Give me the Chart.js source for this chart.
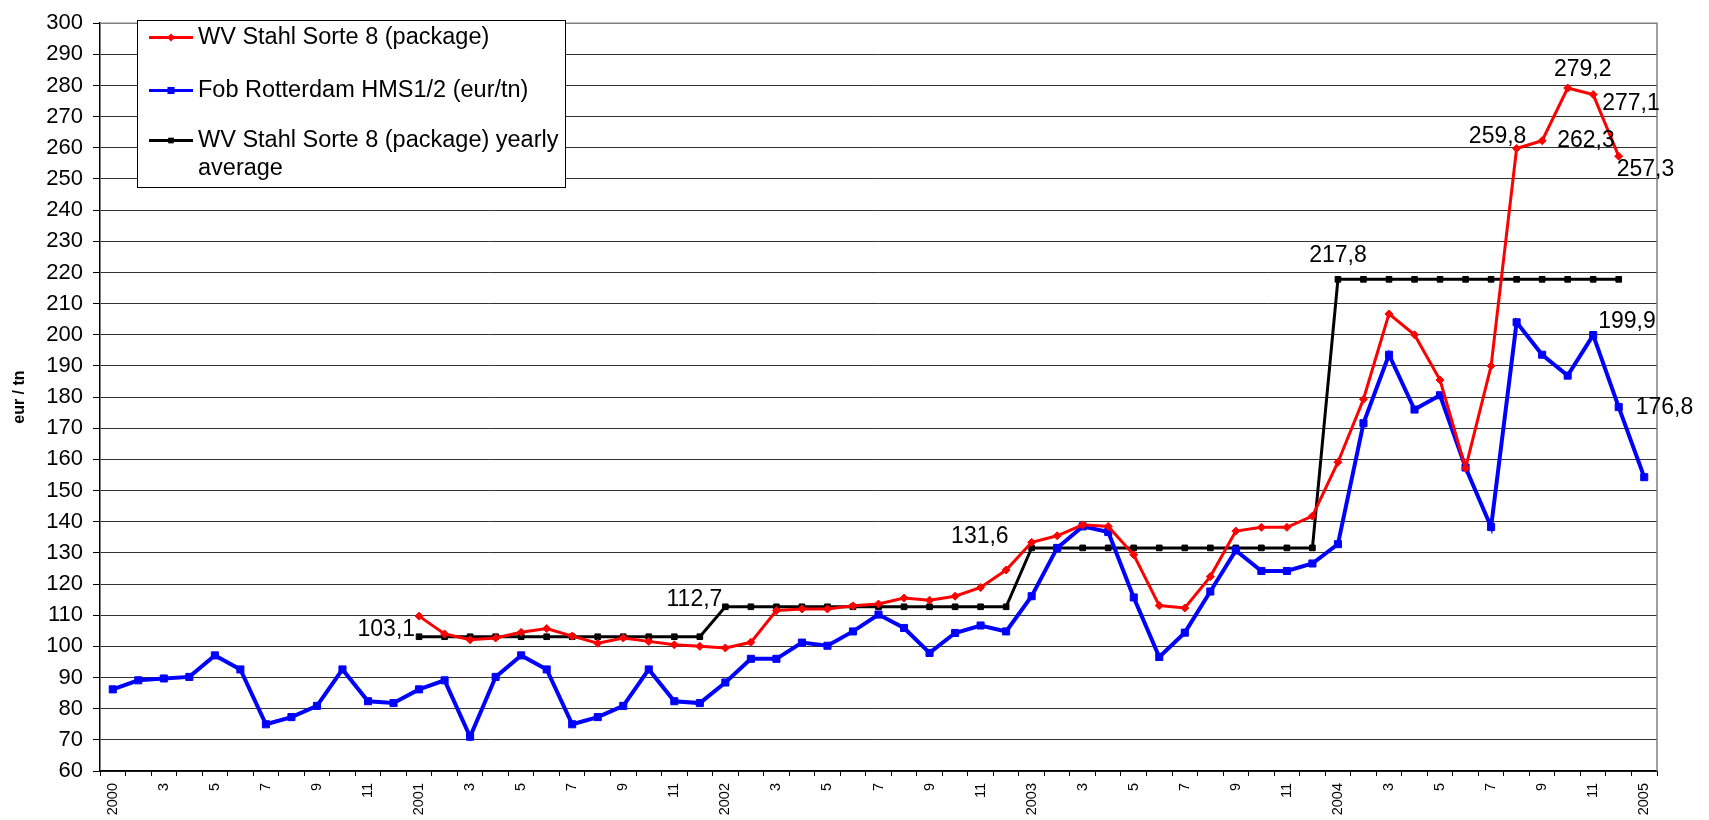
<!DOCTYPE html>
<html>
<head>
<meta charset="utf-8">
<script src="https://cdn.jsdelivr.net/npm/chart.js@4/dist/chart.umd.min.js"></script>
<style>
  html, body { margin: 0; padding: 0; background: #fff; }
  #wrap { width: 1709px; height: 820px; }
</style>
</head>
<body>
<div id="wrap"><canvas id="myChart" width="1709" height="820"></canvas></div>
<script>
// monthly categories, Jan 2000 .. Jan 2005
const months = [
  '2000', '2', '3', '4', '5', '6', '7', '8', '9', '10', '11', '12',
  '2001', '2', '3', '4', '5', '6', '7', '8', '9', '10', '11', '12',
  '2002', '2', '3', '4', '5', '6', '7', '8', '9', '10', '11', '12',
  '2003', '2', '3', '4', '5', '6', '7', '8', '9', '10', '11', '12',
  '2004', '2', '3', '4', '5', '6', '7', '8', '9', '10', '11', '12',
  '2005'
];

const stahl = [
  null, null, null, null, null, null, null, null, null, null, null, null,
  109.7, 104.0, 102.1, 102.7, 104.5, 105.7, 103.3, 101.0, 102.7, 101.6, 100.5, 100.0,
  99.5, 101.3, 111.5, 112.0, 112.0, 113.0, 113.6, 115.5, 114.8, 116.1, 118.9, 124.5,
  133.4, 135.5, 139.0, 138.5, 129.4, 113.1, 112.3, 122.4, 137.0, 138.2, 138.2, 141.8,
  159.1, 179.3, 206.7, 200.0, 185.5, 157.2, 190.0, 259.8, 262.3, 279.2, 277.1, 257.3,
  null
];

const rotterdam = [
  86.2, 89.1, 89.7, 90.2, 97.1, 92.6, 75.0, 77.3, 80.9, 92.6, 82.4, 81.8,
  86.2, 89.1, 71.0, 90.2, 97.1, 92.6, 75.0, 77.3, 80.9, 92.6, 82.4, 81.8,
  88.4, 96.0, 96.0, 101.2, 100.2, 104.8, 110.2, 105.9, 97.9, 104.3, 106.7, 104.8,
  116.1, 131.6, 138.5, 136.7, 115.7, 96.6, 104.4, 117.6, 130.8, 124.2, 124.2, 126.6,
  132.8, 171.6, 193.6, 176.0, 180.6, 157.4, 138.3, 204.0, 193.6, 186.9, 199.9, 176.8,
  154.3
];

const yearlyAvg = [
  null, null, null, null, null, null, null, null, null, null, null, null,
  103.1, 103.1, 103.1, 103.1, 103.1, 103.1, 103.1, 103.1, 103.1, 103.1, 103.1, 103.1,
  112.7, 112.7, 112.7, 112.7, 112.7, 112.7, 112.7, 112.7, 112.7, 112.7, 112.7, 112.7,
  131.6, 131.6, 131.6, 131.6, 131.6, 131.6, 131.6, 131.6, 131.6, 131.6, 131.6, 131.6,
  217.8, 217.8, 217.8, 217.8, 217.8, 217.8, 217.8, 217.8, 217.8, 217.8, 217.8, 217.8,
  null
];

const legendLines = [
  ['WV Stahl Sorte 8 (package)'],
  ['Fob Rotterdam HMS1/2 (eur/tn)'],
  ['WV Stahl Sorte 8 (package) yearly', 'average']
];

// which points get a value label: dataset, index, align, dx, dy (to baseline)
const pointLabels = [
  [2, 12, 'right', -4, -1],
  [2, 24, 'right', -3, -1],
  [2, 36, 'right', -23, -5],
  [2, 48, 'center', 0, -17],
  [0, 55, 'center', -19, -5],
  [0, 56, 'left', 15, 6],
  [0, 57, 'center', 15, -12],
  [0, 58, 'left', 9, 15],
  [0, 59, 'left', -2, 20],
  [1, 58, 'left', 5, -7],
  [1, 59, 'left', 17, 7]
];

const FONT = '"Liberation Sans", Arial, sans-serif';

const plotFrame = {
  id: 'plotFrame',
  beforeDatasetsDraw(chart) {
    const a = chart.chartArea, ctx = chart.ctx;
    ctx.save();
    ctx.strokeStyle = '#808080';
    ctx.lineWidth = 1.5;
    ctx.beginPath();
    ctx.moveTo(a.left, a.top);
    ctx.lineTo(a.right, a.top);
    ctx.lineTo(a.right, a.bottom);
    ctx.stroke();
    ctx.restore();
  }
};

const valueLabels = {
  id: 'valueLabels',
  afterDatasetsDraw(chart) {
    const ctx = chart.ctx;
    ctx.save();
    ctx.font = '23px ' + FONT;
    ctx.fillStyle = '#000';
    ctx.textBaseline = 'alphabetic';
    pointLabels.forEach(([ds, i, align, dx, dy]) => {
      const pt = chart.getDatasetMeta(ds).data[i];
      const v = chart.data.datasets[ds].data[i];
      ctx.textAlign = align;
      ctx.fillText(v.toFixed(1).replace('.', ','), pt.x + dx, pt.y + dy);
    });
    ctx.restore();
  }
};

const boxLegend = {
  id: 'boxLegend',
  afterDraw(chart) {
    const ctx = chart.ctx;
    const box = { x: 137, y: 20, w: 428, h: 167 };
    const baselines = [43.5, 96.5, 146.5];
    ctx.save();
    ctx.fillStyle = '#fff';
    ctx.fillRect(box.x, box.y, box.w, box.h);
    ctx.strokeStyle = '#000';
    ctx.lineWidth = 1;
    ctx.strokeRect(box.x + 0.5, box.y + 0.5, box.w, box.h);
    ctx.font = '23.5px ' + FONT;
    ctx.textAlign = 'left';
    ctx.textBaseline = 'alphabetic';
    chart.data.datasets.forEach((ds, k) => {
      const ly = baselines[k] - 6;
      ctx.strokeStyle = ds.borderColor;
      ctx.lineWidth = 3;
      ctx.beginPath();
      ctx.moveTo(149, ly);
      ctx.lineTo(193, ly);
      ctx.stroke();
      ctx.fillStyle = ds.borderColor;
      const s = ds.pointRadius * Math.SQRT1_2;
      ctx.save();
      ctx.translate(171, ly);
      if (ds.pointStyle === 'rectRot') ctx.rotate(Math.PI / 4);
      ctx.fillRect(-s, -s, 2 * s, 2 * s);
      ctx.restore();
      ctx.fillStyle = '#000';
      legendLines[k].forEach((t, j) => {
        ctx.fillText(t, 198, baselines[k] + j * 28);
      });
    });
    ctx.restore();
  }
};

const data = {
  labels: months,
  datasets: [{
    label: legendLines[0].join(' '),
    data: stahl,
    borderColor: '#ff0000',
    backgroundColor: '#ff0000',
    borderWidth: 3,
    pointStyle: 'rectRot',
    pointRadius: 4,
    pointBorderWidth: 1
  }, {
    label: legendLines[1].join(' '),
    data: rotterdam,
    borderColor: '#0000ff',
    backgroundColor: '#0000ff',
    borderWidth: 4,
    pointStyle: 'rect',
    pointRadius: 5,
    pointBorderWidth: 1
  }, {
    label: legendLines[2].join(' '),
    data: yearlyAvg,
    borderColor: '#000000',
    backgroundColor: '#000000',
    borderWidth: 3,
    pointStyle: 'rect',
    pointRadius: 4,
    pointBorderWidth: 1
  }]
};

const config = {
  type: 'line',
  data,
  options: {
    responsive: false,
    animation: false,
    layout: { padding: { left: 0, right: 52, top: 17, bottom: 0 } },
    plugins: {
      legend: { display: false },
      tooltip: { enabled: false }
    },
    scales: {
      x: {
        offset: true,
        afterFit(scale) { scale.height = 49; },
        border: { color: '#000', width: 1.5 },
        grid: {
          offset: true,
          drawOnChartArea: false,
          tickLength: 5,
          tickColor: '#000'
        },
        ticks: {
          autoSkip: false,
          maxRotation: 90,
          minRotation: 90,
          padding: 7,
          color: '#000',
          font: { family: FONT, size: 14.5 },
          callback(value, index) {
            return index % 2 === 0 ? this.getLabelForValue(value) : '';
          }
        }
      },
      y: {
        min: 60,
        max: 300,
        afterFit(scale) { scale.width = 100; },
        border: { color: '#000', width: 1.5 },
        grid: {
          color: 'rgba(0,0,0,0.8)',
          lineWidth: 1,
          tickLength: 7,
          tickColor: '#000'
        },
        ticks: {
          stepSize: 10,
          padding: 10,
          color: '#000',
          font: { family: FONT, size: 22 }
        },
        title: {
          display: true,
          text: 'eur / tn',
          color: '#000',
          padding: { top: 10, bottom: 0 },
          font: { family: FONT, size: 16, weight: 'bold' }
        }
      }
    }
  },
  plugins: [plotFrame, valueLabels, boxLegend]
};

const myChart = new Chart(
  document.getElementById('myChart'),
  config
);
</script>
</body>
</html>
